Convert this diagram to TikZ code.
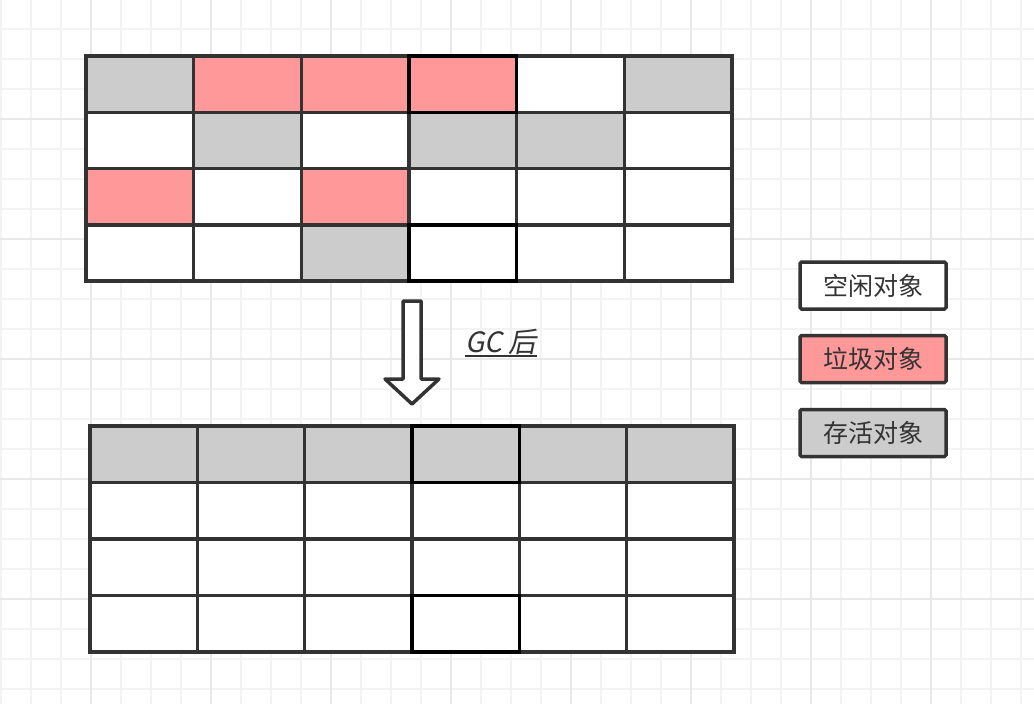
\documentclass[tikz,border=0pt]{standalone}
\usepackage{fontspec}
\newfontfamily\cjk{Noto Sans CJK SC}
\newfontfamily\cjkslant[FakeSlant=0.2]{Noto Sans CJK SC}
\usepackage{tikz}
\usetikzlibrary{positioning}
\definecolor{ink}{HTML}{333333}
\definecolor{live}{HTML}{CCCCCC}
\definecolor{junk}{HTML}{FF9999}
\definecolor{minorline}{HTML}{F3F3F3}
\definecolor{majorline}{HTML}{E8E8E8}

\begin{document}
\begin{tikzpicture}[x=1pt, y=-1pt,
    cell/.style={draw=ink, line width=3.5pt, outer sep=0pt, inner sep=0pt,
                 minimum width=107.67pt, minimum height=56.25pt},
    key/.style={draw=ink, line width=3.5pt, rounded corners=1.5pt, outer sep=0pt,
                minimum width=146pt, minimum height=47pt, text=ink,
                font=\cjk\fontsize{25}{28}\selectfont},
    hollow/.style={draw=ink, fill=white, line width=3.5pt, line join=round}]
    \useasboundingbox[fill=white] (0,0) rectangle (1034,704);
    \foreach \x in {1,31,...,1034} \draw[minorline, line width=2pt] (\x,0) -- (\x,704);
    \foreach \y in {29,59,...,704} \draw[minorline, line width=2pt] (0,\y) -- (1034,\y);
    \foreach \x in {91,211,...,1034} \draw[majorline, line width=2pt] (\x,0) -- (\x,704);
    \foreach \y in {119,239,...,704} \draw[majorline, line width=2pt] (0,\y) -- (1034,\y);

    \foreach \fl [count=\r] in {{live,junk,junk,junk,white,live},
                                {white,live,white,live,live,white},
                                {junk,white,junk,white,white,white},
                                {white,white,live,white,white,white}}
        \foreach \f [count=\c] in \fl
            \node[cell, fill=\f] (top-\r-\c) at ({86+(\c-0.5)*107.67}, {56+(\r-0.5)*56.25}) {};
    \foreach \fl [count=\r] in {{live,live,live,live,live,live},
                                {white,white,white,white,white,white},
                                {white,white,white,white,white,white},
                                {white,white,white,white,white,white}}
        \foreach \f [count=\c] in \fl
            \node[cell, fill=\f, minimum width=107.33pt, minimum height=56.5pt]
                (bot-\r-\c) at ({90+(\c-0.5)*107.33}, {426+(\r-0.5)*56.5}) {};
    \foreach \n in {top-1-4, top-4-4, bot-1-4, bot-4-4}
        \draw[black, line width=3.5pt] (\n.south west) rectangle (\n.north east);

    \draw[hollow] (403,301) -- (421,301) -- (421,379) -- (439,379) -- (412,404)
        -- (385,379) -- (403,379) -- cycle;
    \node[anchor=base, inner sep=0pt, text=ink, font=\cjkslant\fontsize{28}{32}\selectfont]
        (gc) at (501,352) {GC 后};
    \draw[ink, line width=1.5pt] ([yshift=-4pt]gc.base west) -- ([yshift=-4pt]gc.base east);

    \node[key, fill=white] (free) at (873,285.5) {空闲对象};
    \node[key, fill=junk] (garbage) at (873,359) {垃圾对象};
    \node[key, fill=live] (alive) at (873,433) {存活对象};
\end{tikzpicture}
\end{document}
